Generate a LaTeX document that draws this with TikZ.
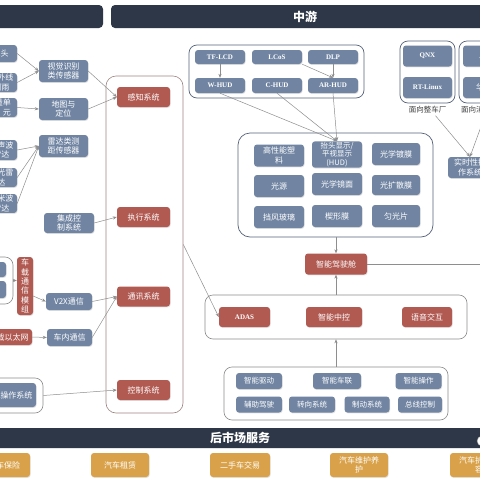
\documentclass[tikz,border=0pt]{standalone}
\usepackage{fontspec}
\setmainfont{Liberation Serif}
\newfontfamily\cjk{Noto Sans CJK SC}
\usetikzlibrary{arrows.meta,shadows,calc}
\definecolor{bblue}{HTML}{7185A3}
\definecolor{bred}{HTML}{B15A52}
\definecolor{borange}{HTML}{D9A24A}
\definecolor{dbar}{HTML}{2E3747}
\definecolor{gline}{HTML}{8C8C8C}
\definecolor{hline}{HTML}{55627A}
\definecolor{sline}{HTML}{9C8580}
\definecolor{agray}{HTML}{8E8E8E}
\tikzset{
  base/.style={rounded corners=3pt, inner sep=1pt, align=center, text=white,
    drop shadow={opacity=0.22,shadow xshift=0.6pt,shadow yshift=-0.9pt}},
  cj/.style={font=\cjk\fontsize{8}{9.5}\selectfont},
  bb/.style={base, fill=bblue, cj},
  rb/.style={base, fill=bred, cj},
  ob/.style={base, fill=borange, cj},
  lb/.style={base, fill=bblue, font=\bfseries\fontsize{7}{8}\selectfont},
  lr/.style={base, fill=bred, font=\bfseries\fontsize{7}{8}\selectfont},
  grp/.style={draw=gline, rounded corners=8pt, line width=0.6pt, inner sep=0},
  hgrp/.style={draw=hline, rounded corners=8pt, line width=0.7pt, inner sep=0},
  arr/.style={draw=agray, line width=0.5pt, -{Stealth[length=4pt,width=3.2pt]}},
  pl/.style={draw=agray, line width=0.5pt},
  barst/.style={fill=dbar, rounded corners=4pt, text=white, inner sep=0,
    font=\cjk\bfseries\fontsize{12}{14}\selectfont},
  sz/.style 2 args={minimum width=#1, minimum height=#2},
  tag/.style={text=black!75, font=\cjk\fontsize{7.5}{9}\selectfont, inner sep=1pt},
}
\begin{document}
\begin{tikzpicture}[x=1pt,y=-1pt]
\useasboundingbox (0,0) rectangle (480,480);
\fill[white] (0,0) rectangle (480,480);
\clip (0,0) rectangle (480,480);

% bars
\node[barst, sz={113}{23}] (topL) at (46.5,16.5) {};
\node[barst, sz={388}{23}] (topR) at (305,16.5) {中游};
\node[barst, sz={500}{20}] (botbar) at (240,438) {后市场服务};
\node[draw=gline, fill=white, circle, minimum size=10, inner sep=0] (knob) at (482,441) {};

% left partial boxes
\node[bb, sz={41}{17}] (l1) at (-3.5,53.5) {摄像头};
\node[bb, sz={31}{19}] (l2) at (1.5,82.5) {红外线\\测雨};
\node[bb, sz={36}{19}, align=right] (l3) at (-1,107.5) {测量单\\元};
\node[bb, sz={31}{20}] (l4) at (1.5,150) {超声波\\雷达};
\node[bb, sz={31}{19}] (l5) at (1.5,177.5) {激光雷\\达};
\node[bb, sz={31}{18}] (l6) at (1.5,203.5) {毫米波\\雷达};

\node[grp, sz={33}{47}] (l7g) at (-3.5,280.5) {};
\node[bb, sz={26}{15}] (l7a) at (-7,269.5) {};
\node[bb, sz={26}{17}] (l7b) at (-7,289.5) {};
\node[rb, sz={16}{58}, font=\cjk\fontsize{8}{9.4}\selectfont] (vcom) at (25,286) {车\\载\\通\\信\\模\\组};
\node[rb, sz={46.5}{16}] (eth) at (8.75,337) {车载以太网};
\node[grp, sz={63}{35}] (osg) at (11.5,395.5) {};
\node[bb, sz={55}{24}] (os) at (8.5,395) {车载操作系统};

% middle blue
\node[bb, sz={49}{22}] (vis) at (63.5,71) {视觉识别\\类传感器};
\node[bb, sz={49}{22}] (map) at (63.5,109) {地图与\\定位};
\node[bb, sz={49}{22}] (rad) at (63.5,146) {雷达类测\\距传感器};
\node[bb, sz={50}{20}] (int) at (69,223) {集成控\\制系统};
\node[bb, sz={46}{17}] (v2x) at (69,301.5) {V2X通信};
\node[bb, sz={45}{17}] (incar) at (69.5,337.5) {车内通信};

% system column
\node[draw=sline, rounded corners=10pt, line width=0.6pt, sz={77}{337}] (sysg) at (144.5,244.5) {};
\node[rb, sz={53}{20}] (perc) at (143.5,97) {感知系统};
\node[rb, sz={53}{20}] (exec) at (143.5,217) {执行系统};
\node[rb, sz={53}{20}] (comm) at (143.5,296.5) {通讯系统};
\node[rb, sz={53}{20}] (ctrl) at (143.5,390) {控制系统};

% HUD top group
\node[hgrp, sz={175}{53}] (hudtop) at (276.5,71.5) {};
\node[lb, sz={50}{14}] (tflcd) at (220,57) {TF-LCD};
\node[lb, sz={50}{14}] (lcos) at (277,57) {LCoS};
\node[lb, sz={50}{14}] (dlp) at (333,57) {DLP};
\node[lb, sz={50}{15}] (whud) at (220,85.5) {W-HUD};
\node[lb, sz={50}{15}] (chud) at (277,85.5) {C-HUD};
\node[lb, sz={50}{15}] (arhud) at (333,85.5) {AR-HUD};

% HUD materials group
\node[hgrp, rounded corners=12pt, sz={195}{104}] (hudbig) at (335.5,185) {};
\node[bb, sz={50}{22}] (plast) at (279,155.5) {高性能塑\\料};
\node[bb, sz={50}{25}, font=\cjk\fontsize{7.5}{8.3}\selectfont] (hud) at (337,154.5) {抬头显示/\\平视显示\\(HUD)};
\node[bb, sz={48}{22}] (coat) at (396,154) {光学镀膜};
\node[bb, sz={50}{22}] (light) at (279,186) {光源};
\node[bb, sz={50}{22}] (mirror) at (337,184) {光学镜面};
\node[bb, sz={48}{20}] (diff) at (396,185) {光扩散膜};
\node[bb, sz={50}{22}] (glass) at (279,217) {挡风玻璃};
\node[bb, sz={50}{22}] (wedge) at (337,216) {楔形膜};
\node[bb, sz={48}{22}] (homo) at (396,216) {匀光片};

% cockpit
\node[rb, sz={62}{21}] (cockpit) at (336,264) {智能驾驶舱};
\coordinate (offR) at (490,264);

% ADAS group
\node[grp, sz={262}{44}] (adasg) at (336,317) {};
\node[lr, sz={51}{20}] (adas) at (244.5,317) {ADAS};
\node[rb, sz={56}{20}] (ctl) at (334,317) {智能中控};
\node[rb, sz={50}{20}] (voice) at (427,317) {语音交互};

% bottom group
\node[grp, sz={224}{53}] (botg) at (336,393.5) {};
\node[bb, sz={46}{16}, font=\cjk\fontsize{7.5}{9}\selectfont] (drv) at (259,381) {智能驱动};
\node[bb, sz={48}{16}, font=\cjk\fontsize{7.5}{9}\selectfont] (net) at (337,381) {智能车联};
\node[bb, sz={46}{16}, font=\cjk\fontsize{7.5}{9}\selectfont] (op) at (418.5,381) {智能操作};
\node[bb, sz={46}{16}, font=\cjk\fontsize{7.5}{9}\selectfont] (aux) at (259,404.5) {辅助驾驶};
\node[bb, sz={46}{16}, font=\cjk\fontsize{7.5}{9}\selectfont] (steer) at (312,404.5) {转向系统};
\node[bb, sz={45}{16}, font=\cjk\fontsize{7.5}{9}\selectfont] (brake) at (367,404.5) {制动系统};
\node[bb, sz={44}{16}, font=\cjk\fontsize{7.5}{9}\selectfont] (bus) at (420,404.5) {总线控制};

% right OS groups
\node[hgrp, sz={55}{62}] (grp1) at (427.5,72) {};
\node[lb, sz={49}{21}] (qnx) at (427.5,56) {QNX};
\node[lb, sz={49}{21}] (rtl) at (427.5,87.5) {RT-Linux};
\node[tag] (lab1) at (427.5,110) {面向整车厂};
\node[hgrp, sz={61}{62}] (grp2) at (489.5,72) {};
\node[lb, sz={58}{21}] (andr) at (492,56) {Android};
\node[bb, sz={58}{21}] (hmos) at (492,87.5) {华为鸿蒙};
\node[tag, anchor=west] (lab2) at (460,110) {面向消费者};
\node[bb, sz={44}{21}] (rtos) at (470,167.5) {实时性操\\作系统};

% orange
\node[ob, sz={52}{24}] (ins) at (4,465) {汽车保险};
\node[ob, sz={58}{24}] (rent) at (120,465) {汽车租赁};
\node[ob, sz={60}{24}] (used) at (240,465) {二手车交易};
\node[ob, sz={58}{24}] (maint) at (359,465) {汽车维护养\\护};
\node[ob, sz={58}{24}] (care) at (479,465) {汽车护理美\\容};

% arrows left
\draw[arr] (l1.east) -- (vis.west);
\draw[arr] (l2.east) -- (vis.west);
\draw[arr] (l3.east) -- (map.west);
\draw[arr] (l4.east) -- (rad.west);
\draw[arr] (l5.east) -- (rad.west);
\draw[arr] (l6.east) -- (rad.west);
\draw[arr] (l7g.east) -- (l7g.east -| vcom.west);
\draw[arr] ($(vcom.east)+(0,10)$) -- (v2x.west);
\draw[arr] (eth.east) -- (incar.west);
\draw[arr] (vis.east) -- (perc.west);
\draw[arr] (map.east) -- (perc.west);
\draw[arr] (int.east) -- (exec.west);
\draw[arr] (v2x.east) -- (comm.west);
\draw[arr] (incar.east) -- (comm.west);
\draw[arr] (osg.east) -- (ctrl.west);
\draw[arr] (sysg.east) -- (adas.west);

% HUD arrows
\draw[arr] (tflcd.south) -- (whud.north);
\draw[arr] (lcos.south east) -- (arhud.north);
\draw[arr] (dlp.south) -- (arhud.north);
\draw[arr] (whud.south) -- (hud.north);
\draw[arr] (chud.south) -- (hud.north);
\draw[arr] (arhud.south) -- (hud.north);
\draw[arr] (hudbig.south -| cockpit) -- (cockpit.north);
\draw[arr] (adasg.north -| cockpit) -- (cockpit.south);
\draw[arr] (botg.north -| cockpit) -- (adasg.south -| cockpit);
\draw[pl] (cockpit.east) -- (offR);

% OS arrows
\draw[arr] ($(lab1.south)+(8,1)$) -- (rtos.north);
\draw[arr] (grp2.south) -- (rtos.north);
\end{tikzpicture}
\end{document}
